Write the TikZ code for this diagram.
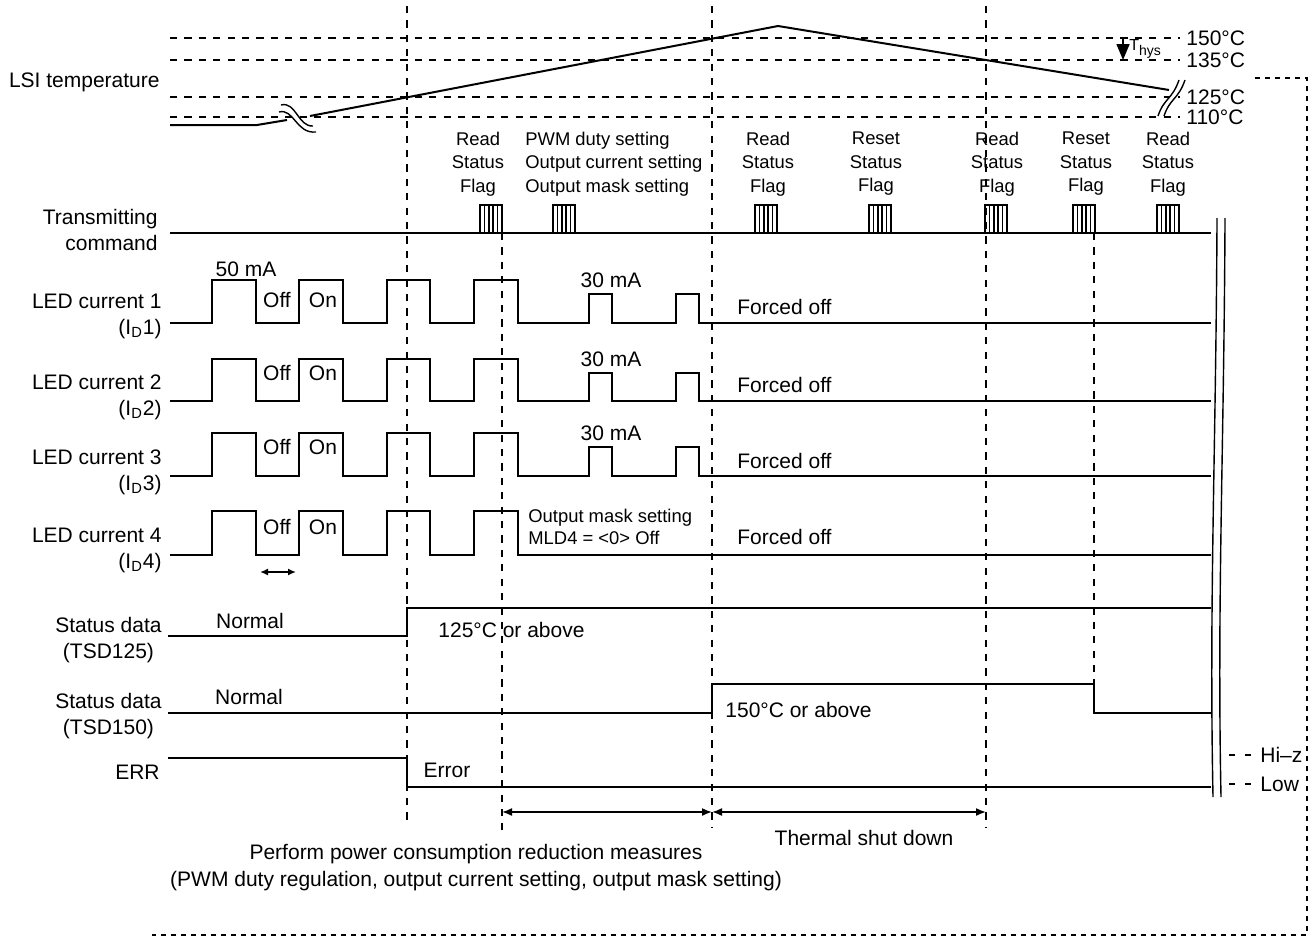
\documentclass[tikz,border=0pt]{standalone}
\usepackage{fontspec}
\setmainfont{Liberation Sans}
\usetikzlibrary{arrows.meta}

\begin{document}
\begin{tikzpicture}[x=0.5pt, y=-0.5pt,
    every node/.style={font=\fontsize{10.5}{13}\selectfont, inner sep=0pt},
    sigline/.style={line width=1pt},
    guideline/.style={line width=0.7pt, dash pattern=on 3.6pt off 3.6pt},
    frameline/.style={line width=0.7pt, dash pattern=on 2.6pt off 2.4pt},
    breakline/.style={line width=0.7pt},
    spanarrow/.style={line width=0.8pt, {Latex[length=5pt,width=4pt]}-{Latex[length=5pt,width=4pt]}},
    cmdlabel/.style={align=center, font=\fontsize{9.2}{11.75}\selectfont},
    sidelabel/.style={anchor=east, align=right}]

    \useasboundingbox (0,0) rectangle (1315,937);

    % Time markers
    \draw[guideline] (407,6) -- (407,826);
    \draw[guideline] (712,6) -- (712,828);
    \draw[guideline] (986,6) -- (986,828);
    \draw[guideline] (502,233) -- (502,830);
    \draw[guideline] (1094,233) -- (1094,713);

    % Outer frame
    \draw[frameline] (1255,78) -- (1307,78) -- (1307,935) -- (152,935);

    % LSI temperature
    \node[sidelabel] (lsi) at (160,82) {LSI temperature};
    \foreach \ty/\tv in {38/150,60/135,97/125,117/110} {
        \draw[guideline] (170,\ty) -- (1180,\ty);
        \node[anchor=west] (t\tv) at (1186,\ty) {{\tv}°C};
    }
    \fill[white] (1158,116) .. controls (1164,98) and (1172,100) .. (1179,80)
        -- (1185,80) .. controls (1178,100) and (1170,98) .. (1164,116) -- cycle;
    \draw[sigline] (170,125) -- (257,125) -- (287,120);
    \draw[sigline] (310,116) -- (778,26) -- (1169,90);
    \draw[breakline] (281,105) .. controls (296,101) and (298,127) .. (313,126);
    \draw[breakline] (279,112) .. controls (294,108) and (296,134) .. (316,132);
    \draw[breakline] (1158,116) .. controls (1164,98) and (1172,100) .. (1179,80);
    \draw[breakline] (1164,116) .. controls (1170,98) and (1178,100) .. (1185,80);

    % Hysteresis
    \draw[line width=0.8pt, -{Triangle[length=8pt,width=6.5pt]}] (1123,38) -- (1123,60);
    \node[anchor=west] (thys) at (1129,49)
        {\fontsize{8}{9}\selectfont T\raisebox{-2.5pt}{\fontsize{7}{8}\selectfont hys}};

    % Transmitting command
    \node[sidelabel] (txlbl) at (158,230) {Transmitting\\command};
    \draw[sigline] (170,233) -- (1211,233);
    \foreach \bx in {480,553,755,869,985,1073,1157} {
        \draw[sigline] (\bx,205) rectangle ++(22,28);
        \foreach \k in {1,...,4}
            \draw[line width=0.8pt] (\bx+\k*4.4,205) -- ++(0,28);
    }
    \foreach \cx/\cw [count=\ci] in {478/Read,768/Read,876/Reset,997/Read,1086/Reset,1168/Read}
        \node[cmdlabel] (cmd\ci) at (\cx,164) {\cw\\Status\\Flag};
    \node[cmdlabel, anchor=west, align=left] (pwmcmd) at (525,164)
        {PWM duty setting\\Output current setting\\Output mask setting};

    % LED currents
    \foreach \ly/\n in {316/1,397/2,472/3,550/4}
        \node[sidelabel] (led\n) at (162,\ly) {LED current \n\\(I\textsubscript{D}\n)};
    \foreach \ylo/\yhi/\ymid in {323/280/294,401/359/373,476/433/447}
        \draw[sigline] (170,\ylo) -| (212,\yhi) -| (256,\ylo) -| (299,\yhi) -| (343,\ylo)
            -| (387,\yhi) -| (430,\ylo) -| (474,\yhi) -| (518,\ylo) -| (589,\ymid)
            -| (612,\ylo) -| (676,\ymid) -| (699,\ylo) -- (1211,\ylo);
    \draw[sigline] (170,555) -| (212,511) -| (256,555) -| (299,511) -| (343,555)
        -| (387,511) -| (430,555) -| (474,511) -| (518,555) -- (1211,555);

    \node (ma50) at (246,269) {50 mA};
    \foreach \my [count=\n] in {280,359,433}
        \node (ma\n) at (611,\my) {30 mA};
    \foreach \oy [count=\n] in {300,373,447,527} {
        \node (off\n) at (277,\oy) {Off};
        \node (on\n) at (323,\oy) {On};
    }
    \foreach \fy [count=\n] in {307,385,461,537}
        \node[anchor=west] (forced\n) at (737,\fy) {Forced off};
    \node[anchor=west, align=left, font=\fontsize{9.2}{11}\selectfont] (mask) at (528,527)
        {Output mask setting\\MLD4 = <0> Off};

    \coordinate (offa) at (260,572);
    \coordinate (offb) at (296,572);
    \draw[line width=0.8pt, {Latex[length=4pt,width=3.5pt]}-{Latex[length=4pt,width=3.5pt]}] (offa) -- (offb);

    % Status data TSD125
    \node[sidelabel, align=center] (tsd125) at (162,640) {Status data\\(TSD125)};
    \draw[sigline] (168,636) -| (407,608) -- (1211,608);
    \node (norm1) at (250,621) {Normal};
    \node[anchor=west] (hot125) at (438,630) {125°C or above};

    % Status data TSD150
    \node[sidelabel, align=center] (tsd150) at (162,716) {Status data\\(TSD150)};
    \draw[sigline] (168,713) -| (712,684) -| (1094,713) -- (1211,713);
    \node (norm2) at (249,697) {Normal};
    \node[anchor=west] (hot150) at (725,710) {150°C or above};

    % ERR
    \node[sidelabel] (err) at (160,772) {ERR};
    \draw[sigline] (168,758) -| (407,787) -- (1211,787);
    \node (errtxt) at (447,770) {Error};

    % Intervals
    \coordinate (pa) at (502,812);
    \coordinate (pb) at (712,812);
    \coordinate (pc) at (986,812);
    \draw[spanarrow] (pa) -- (pb);
    \draw[spanarrow] (pb) -- (pc);
    \node (tsd) at (864,838) {Thermal shut down};
    \node[align=center, font=\fontsize{10.5}{13.5}\selectfont] (measures) at (476,868)
        {Perform power consumption reduction measures\\(PWM duty regulation, output current setting, output mask setting)};

    % Time break and output levels
    \draw[breakline] (1217,218) .. controls (1216,450) and (1209,600) .. (1213,797);
    \draw[breakline] (1225,218) .. controls (1224,450) and (1217,600) .. (1221,797);
    \draw[line width=0.7pt, dash pattern=on 3pt off 5pt] (1229,755) -- (1255,755);
    \node[anchor=west] (hiz) at (1260,755) {Hi–z};
    \draw[line width=0.7pt, dash pattern=on 3pt off 5pt] (1229,784) -- (1255,784);
    \node[anchor=west] (low) at (1260,784) {Low};

\end{tikzpicture}
\end{document}
